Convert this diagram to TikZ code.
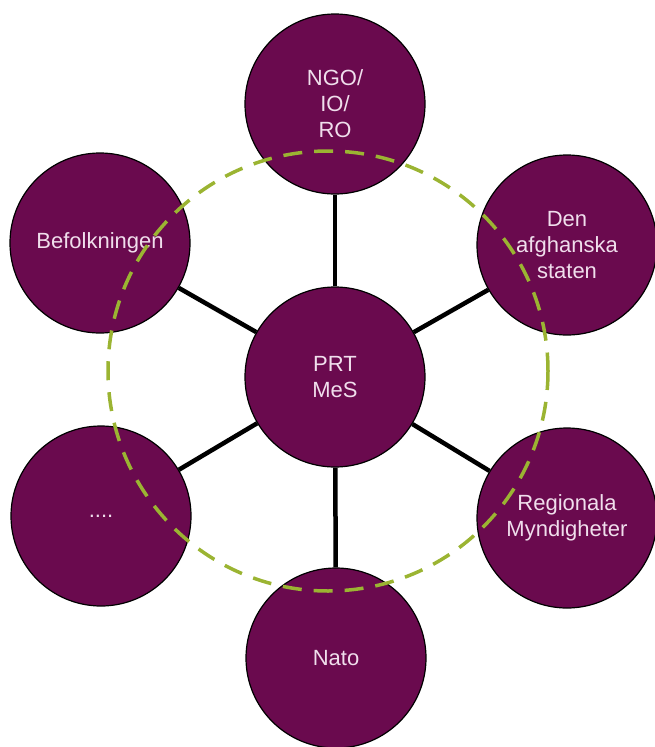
\documentclass[tikz,border=0pt]{standalone}
\usepackage{fontspec}
\setmainfont{Liberation Sans}
\definecolor{plum}{RGB}{106,10,78}
\definecolor{pinkish}{RGB}{240,222,236}
\definecolor{olive}{RGB}{155,180,50}
\begin{document}
\begin{tikzpicture}[
    x=1pt,
    y=-1pt,
    vertex/.style={
        circle,
        draw=black,
        line width=1.2pt,
        fill=plum,
        text=pinkish,
        minimum size=180pt,
        inner sep=0pt,
        align=center,
        font=\fontsize{22}{26}\selectfont
    },
    edge/.style={
        line width=4.5pt
    },
    ring/.style={
        draw=olive,
        line width=3.5pt,
        dash pattern=on 19pt off 12pt
    },
    every node/.style={vertex}
]
\useasboundingbox (0,0) rectangle (655,747);

% Nodes
\node (prt) at (335,377) {PRT\\MeS};

\node (ngo) at (335,104) {NGO/\\IO/\\RO};
\node (den) at (567,245) {Den\\afghanska\\staten};
\node (reg) at (567,518) {Regionala\\Myndigheter};
\node (nato) at (336,658) {Nato};
\node (dots) at (101,516) {....};
\node (bef) at (100,243) {Befolkningen};

% Edges
\draw[edge] (prt) -- (ngo);
\draw[edge] (prt) -- (den);
\draw[edge] (prt) -- (reg);
\draw[edge] (prt) -- (nato);
\draw[edge] (prt) -- (dots);
\draw[edge] (prt) -- (bef);

% Ring on top
\coordinate (mid) at (328,371);
\draw[ring] (mid) circle[radius=220];

\end{tikzpicture}
\end{document}
